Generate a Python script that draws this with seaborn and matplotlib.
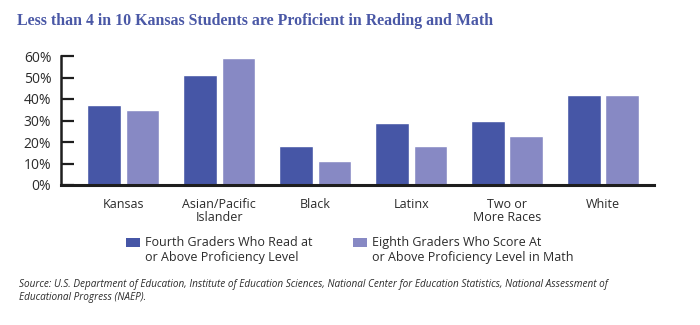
import matplotlib
matplotlib.use("Agg")
import matplotlib.pyplot as plt
from matplotlib.patches import Rectangle
import seaborn as sns
import pandas as pd

categories = ["Kansas", "Asian/Pacific\nIslander", "Black", "Latinx", "Two or\nMore Races", "White"]
reading_4th = [37, 51, 18, 29, 30, 42]
math_8th = [35, 59, 11, 18, 23, 42]
series_names = ["Fourth Graders Who Read at\nor Above Proficiency Level",
                "Eighth Graders Who Score At\nor Above Proficiency Level in Math"]
y_ticks = [0, 10, 20, 30, 40, 50, 60]
y_tick_labels = ["0%", "10%", "20%", "30%", "40%", "50%", "60%"]

title = "Less than 4 in 10 Kansas Students are Proficient in Reading and Math"
source = ("Source: U.S. Department of Education, Institute of Education Sciences, National Center for Education Statistics, National Assessment of\n"
          "Educational Progress (NAEP).")

dark = "#4656A6"
light = "#8789C4"
title_color = "#4A58A6"
text_color = "#2b2b2b"

df = pd.DataFrame({
    "category": categories * 2,
    "value": reading_4th + math_8th,
    "series": [series_names[0]] * len(categories) + [series_names[1]] * len(categories),
})

sns.set_theme(style="white")
plt.rcParams["font.family"] = ["Open Sans", "DejaVu Sans"]

W, H = 700, 325
fig = plt.figure(figsize=(W / 100, H / 100), dpi=100)
ax = fig.add_axes([61 / W, 1 - 185 / H, (654 - 61) / W, (185 - 56) / H])

sns.barplot(data=df, x="category", y="value", hue="series", order=categories,
            hue_order=series_names, palette=[dark, light], width=0.8, gap=0.12,
            legend=False, ax=ax, saturation=1)

ax.set_xlim(-0.65, 5.53)
ax.set_ylim(0, 60)
ax.set_yticks(y_ticks)
ax.set_yticklabels(y_tick_labels)
ax.set_xlabel("")
ax.set_ylabel("")
for s in ["top", "right"]:
    ax.spines[s].set_visible(False)
ax.spines["left"].set_linewidth(1.8)
ax.spines["bottom"].set_linewidth(2.2)
ax.spines["left"].set_color("#1e1e1e")
ax.spines["bottom"].set_color("#1e1e1e")
ax.tick_params(axis="y", direction="in", length=9.5, width=1.6, color="#1e1e1e",
               labelsize=10, labelcolor=text_color, pad=7, left=True)
ax.tick_params(axis="x", length=0, pad=9, labelsize=9, labelcolor=text_color)
for lbl in ax.get_xticklabels():
    lbl.set_multialignment("center")
    lbl.set_linespacing(1.05)

fig.text(17 / W, 1 - 25 / H, title, fontsize=11.4, fontweight="bold",
         family=["Liberation Serif", "DejaVu Serif"], color=title_color,
         ha="left", va="baseline")

# legend
sq_w, sq_h = 14, 9
for (x0, color, label) in [(126, dark, series_names[0]), (353, light, series_names[1])]:
    fig.add_artist(Rectangle((x0 / W, 1 - 247 / H), sq_w / W, sq_h / H,
                             transform=fig.transFigure, facecolor=color, edgecolor="none"))
    fig.text((x0 + 19) / W, 1 - 236 / H, label, fontsize=9, color=text_color,
             ha="left", va="top", linespacing=1.15)

fig.text(19 / W, 1 - 279 / H, source, fontsize=7.2, style="italic", color=text_color,
         ha="left", va="top", linespacing=1.2)

fig.savefig("out.png", dpi=100)
